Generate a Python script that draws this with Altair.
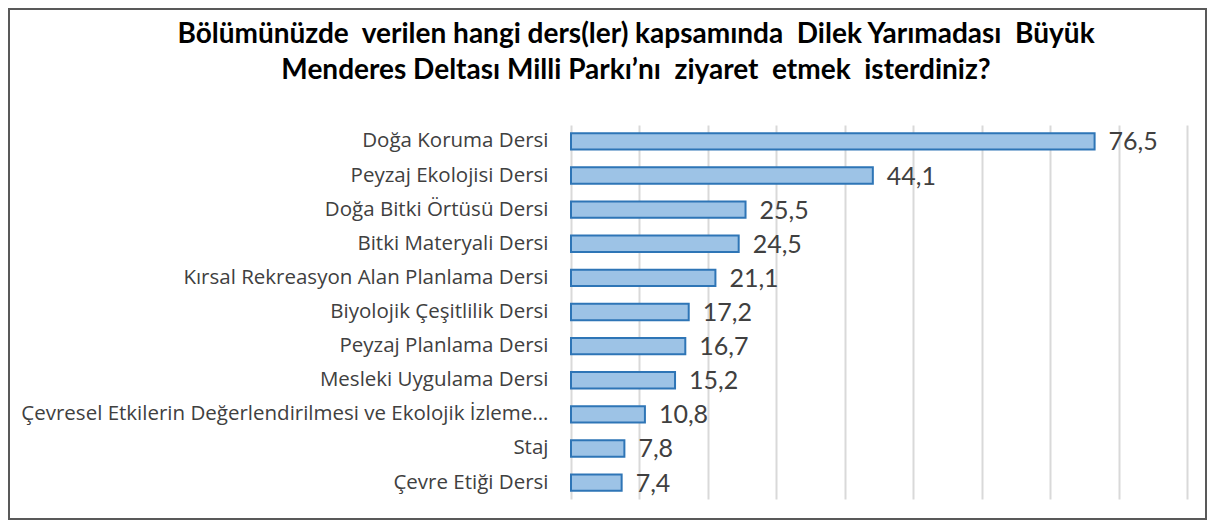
import altair as alt
import pandas as pd

categories = [
    "Doğa Koruma Dersi",
    "Peyzaj Ekolojisi Dersi",
    "Doğa Bitki Örtüsü Dersi",
    "Bitki Materyali Dersi",
    "Kırsal Rekreasyon Alan Planlama Dersi",
    "Biyolojik Çeşitlilik Dersi",
    "Peyzaj Planlama Dersi",
    "Mesleki Uygulama Dersi",
    "Çevresel Etkilerin Değerlendirilmesi ve Ekolojik İzleme...",
    "Staj",
    "Çevre Etiği Dersi",
]
values = [76.5, 44.1, 25.5, 24.5, 21.1, 17.2, 16.7, 15.2, 10.8, 7.8, 7.4]
x_ticks = [0, 10, 20, 30, 40, 50, 60, 70, 80, 90]
title_lines = [
    "Bölümünüzde\u00a0 verilen hangi ders(ler) kapsamında\u00a0 Dilek Yarımadası\u00a0 Büyük",
    "Menderes Deltası Milli Parkı’nı\u00a0 ziyaret\u00a0 etmek\u00a0 isterdiniz?",
]

df = pd.DataFrame({"ders": categories, "deger": values})

base = alt.Chart(df).encode(
    y=alt.Y(
        "ders:N",
        sort=categories,
        scale=alt.Scale(paddingInner=0.52, paddingOuter=0.24),
        axis=alt.Axis(
            title=None,
            labelFont="Open Sans",
            labelFontSize=20.5,
            labelColor="#404040",
            labelPadding=23,
            labelLimit=700,
            ticks=False,
            domain=False,
        ),
    ),
    x=alt.X(
        "deger:Q",
        scale=alt.Scale(domain=[0, 90], nice=False),
        axis=alt.Axis(
            values=x_ticks,
            labels=False,
            ticks=False,
            domain=False,
            grid=True,
            gridColor="#D9D9D9",
            gridWidth=2,
            title=None,
        ),
    ),
)

bars = base.mark_bar(color="#9DC3E6", stroke="#2E75B6", strokeWidth=2)

labels = base.transform_calculate(
    etiket="replace(format(datum.deger, '.1f'), '.', ',')"
).mark_text(
    align="left", baseline="middle", dx=14, dy=1, font="Lato", fontSize=25, color="#404040"
).encode(text="etiket:N")

title = alt.Chart(pd.DataFrame({"k": [0]})).mark_text(
    text=title_lines,
    align="center",
    baseline="alphabetic",
    lineHeight=36,
    font="Lato",
    fontSize=28,
    fontWeight="bold",
    color="#000000",
).encode(x=alt.value(65), y=alt.value(-82))

frame = alt.Chart(pd.DataFrame({"k": [0]})).mark_rect(
    fillOpacity=0, stroke="#595959", strokeWidth=2
).encode(
    x=alt.value(-562), x2=alt.value(635), y=alt.value(-116), y2=alt.value(394)
)

chart = alt.layer(bars, labels, title, frame).properties(
    width=616,
    height=374,
    autosize=alt.AutoSizeParams(type="none"),
    padding={"left": 563, "top": 117, "right": 20, "bottom": 21},
    background="white",
).configure_view(stroke=None)

chart.save("out.html", embed_options={"renderer": "svg", "actions": False})
